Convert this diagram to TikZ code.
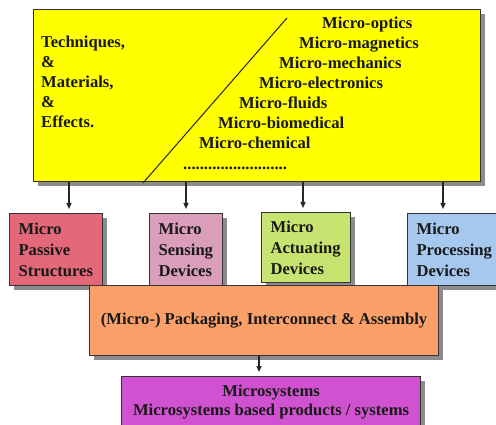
\documentclass[tikz,border=0pt]{standalone}
\usepackage{fontspec}
\setmainfont{Liberation Serif}[BoldFont={Liberation Serif Bold}]
\usetikzlibrary{arrows.meta,shadows}

\definecolor{yellowbox}{RGB}{255,255,0}
\definecolor{passivebox}{RGB}{226,104,122}
\definecolor{sensingbox}{RGB}{218,158,186}
\definecolor{actuatingbox}{RGB}{200,228,112}
\definecolor{processingbox}{RGB}{166,200,238}
\definecolor{packbox}{RGB}{250,160,104}
\definecolor{systembox}{RGB}{208,82,208}

\begin{document}
\begin{tikzpicture}[x=1pt, y=-1pt, >={Triangle[width=5pt,length=6pt]},
	every node/.style={font=\rmfamily\bfseries\fontsize{16.6}{21}\selectfont, text=black!90},
	box/.style={draw=black!80, line width=1.2pt, anchor=north west,
		drop shadow={shadow xshift=4pt, shadow yshift=-4pt, fill=black!45, opacity=1}},
	devbox/.style={box, align=left, inner xsep=9pt, inner ysep=0pt},
	lbl/.style={anchor=base west, inner sep=0pt},
	link/.style={->, line width=1.2pt, black!85, shorten >=4pt}]
	
	% --- 1. Rahmen ---
	\clip (0,0) rectangle (496,425);
	\fill[white] (0,0) rectangle (496,425);
	
	% --- 2. obere Box ---
	\node[box, fill=yellowbox, minimum width=447pt, minimum height=172pt] (top) at (33,9) {};
	\draw[line width=1pt, black!85] (143,183) -- (287,18);
	
	% linke Spalte
	\foreach \t [count=\i] in {{Techniques,}, \&, {Materials,}, \&, Effects.}
		\node[lbl] (left\i) at (41,{28+20*\i}) {\t};
	
	% rechte Spalte (gestaffelt)
	\foreach \t/\x [count=\i] in {Micro-optics/322, Micro-magnetics/299, Micro-mechanics/279,
		Micro-electronics/259, Micro-fluids/239, Micro-biomedical/218, Micro-chemical/199}
		\node[lbl] (field\i) at (\x,{9+20*\i}) {\t};
	\node[lbl] (dots) at (183,170) {.........................};
	
	% --- 3. Bausteine ---
	\node[devbox, fill=passivebox, text width=75pt, minimum height=72pt] (passive) at (9,213) {Micro\\Passive\\Structures};
	\node[devbox, fill=sensingbox, text width=55pt, minimum height=72pt] (sensing) at (149,213) {Micro\\Sensing\\Devices};
	\node[devbox, fill=actuatingbox, text width=71pt, minimum height=70pt] (actuating) at (261,212) {Micro\\Actuating\\Devices};
	\node[devbox, fill=processingbox, text width=85pt, minimum height=72pt] (processing) at (407,213) {Micro\\Processing\\Devices};
	
	% --- 4. Packaging und Systeme ---
	\node[box, fill=packbox, minimum width=349pt, minimum height=70pt] (pack) at (89,285) {(Micro-) Packaging, Interconnect \& Assembly};
	\node[box, fill=systembox, minimum width=299pt, minimum height=51pt, align=center,
		font=\rmfamily\bfseries\fontsize{16.6}{18.5}\selectfont] (system) at (121,376) {Microsystems\\Microsystems based products / systems};
	
	% --- 5. Pfeile ---
	\coordinate (a1) at (69,0);
	\coordinate (a2) at (186,0);
	\coordinate (a3) at (303,0);
	\coordinate (a4) at (443,0);
	\coordinate (a5) at (259,0);
	\draw[link] (top.south -| a1) -- (passive.north -| a1);
	\draw[link] (top.south -| a2) -- (sensing.north -| a2);
	\draw[link] (top.south -| a3) -- (actuating.north -| a3);
	\draw[link] (top.south -| a4) -- (processing.north -| a4);
	\draw[link] (pack.south -| a5) -- (system.north -| a5);
	
\end{tikzpicture}
\end{document}
